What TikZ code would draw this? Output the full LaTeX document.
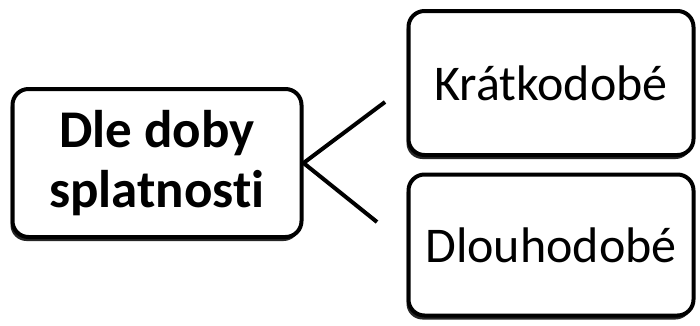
\documentclass[tikz,border=0pt]{standalone}
\usepackage{fontspec}
\setmainfont[RawFeature={-liga;-dlig}]{Carlito}
\usetikzlibrary{shadows}
\begin{document}
\begin{tikzpicture}[x=1pt,y=1pt,
  box/.style={draw=black, line width=4pt, rounded corners=16pt, fill=white,
    drop shadow={shadow xshift=-2pt, shadow yshift=-4pt, opacity=0.85, fill=black},
    inner sep=0pt, align=center},
  conn/.style={line width=4pt, line cap=butt}]
\useasboundingbox (0,0) rectangle (700,325);
\node[box, minimum width=289pt, minimum height=148pt,
  font=\fontsize{53}{60}\selectfont\bfseries] (L) at (157,162) {Dle doby\\splatnosti};
\node[box, minimum width=285pt, minimum height=144pt,
  font=\fontsize{50}{56}\selectfont] (A) at (551,242) {Krátkodobé};
\node[box, minimum width=285pt, minimum height=141pt,
  font=\fontsize{50}{56}\selectfont] (B) at (551,80) {Dlouhodobé};
\coordinate (J) at (L.east);
\coordinate (TA) at (385,223);
\coordinate (TB) at (377,103);
\draw[conn] (TA) -- (J) -- (TB);
\end{tikzpicture}
\end{document}
